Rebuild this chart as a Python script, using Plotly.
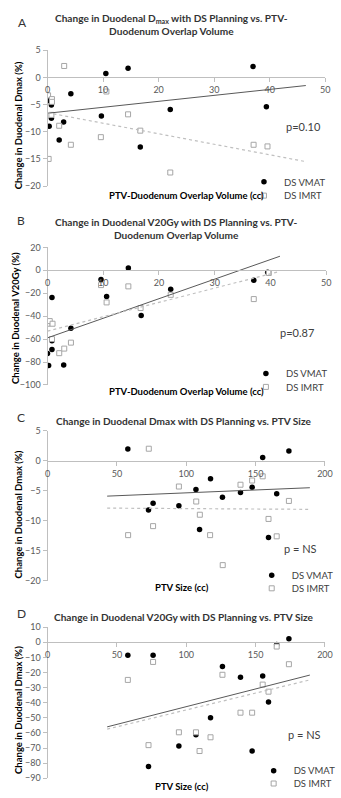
import plotly.graph_objects as go

W, H = 341, 798

# ---------------- data ----------------
# Panel A: Duodenal Dmax change vs PTV-duodenum overlap volume
a_vmat_x = [0.0, 0.7, 0.7, 0.3, 2.1, 2.9, 4.2, 10.5, 9.7, 14.5, 16.7, 22.1, 37.0, 39.4]
a_vmat_y = [-4.3, -5.1, -7.5, -9.0, -11.5, -8.2, -3.0, 0.7, -7.1, 1.7, -12.8, -5.9, 2.0, -5.4]
a_imrt_x = [3.0, 0.1, 0.8, 0.8, 0.7, 2.1, 0.2, 4.2, 9.6, 10.6, 14.5, 16.7, 22.1, 37.1, 39.6]
a_imrt_y = [2.1, -3.3, -4.0, -4.5, -6.9, -8.9, -15.0, -12.4, -11.0, -2.6, -6.8, -9.8, -17.5, -12.4, -12.7]
a_trend_x = [0.0, 46.5]
a_trend_vmat = [-6.6, -1.5]
a_trend_imrt = [-6.5, -15.5]

# Panel B: Duodenal V20Gy change vs overlap volume
b_vmat_x = [0.0, 0.2, 0.8, 0.8, 0.8, 2.9, 4.2, 9.6, 10.6, 14.5, 16.8, 22.1, 37.0, 39.5]
b_vmat_y = [-72.6, -83.0, -23.7, -69.0, -61.5, -82.6, -50.6, -8.0, -22.9, 2.0, -39.4, -16.6, -8.6, -1.7]
b_imrt_x = [0.0, 0.4, 0.9, 0.8, 2.1, 3.0, 4.2, 9.6, 10.6, 14.5, 16.7, 22.1, 37.0, 39.7]
b_imrt_y = [-46.6, -44.3, -46.6, -60.0, -72.3, -68.3, -63.1, -12.9, -28.0, -14.0, -32.9, -21.4, -25.1, -2.3]
b_trend_x = [0.0, 41.7]
b_trend_vmat = [-58.9, 12.3]
b_trend_imrt = [-53.0, -0.9]

# Panel C: Duodenal Dmax change vs PTV size
c_vmat_x = [57.9, 72.8, 76.1, 94.7, 107.0, 109.6, 117.5, 126.1, 139.1, 147.5, 155.1, 159.3, 165.2, 174.0]
c_vmat_y = [1.95, -8.2, -7.1, -7.5, -4.8, -11.45, -3.0, -6.1, -5.3, -4.4, 0.55, -12.8, -5.5, 1.6]
c_imrt_x = [58.1, 73.0, 76.1, 94.7, 107.2, 109.8, 117.2, 126.3, 139.1, 147.5, 155.1, 159.3, 165.2, 174.0]
c_imrt_y = [-12.4, 2.0, -10.9, -4.3, -6.8, -9.0, -12.4, -17.4, -4.0, -3.3, -2.6, -9.7, -12.6, -6.7]
c_trend_x = [43.0, 189.1]
c_trend_vmat = [-5.9, -4.5]
c_trend_imrt = [-7.9, -8.1]

# Panel D: Duodenal V20Gy change vs PTV size
d_vmat_x = [57.9, 76.1, 72.8, 94.7, 107.0, 117.5, 126.1, 139.1, 147.5, 155.1, 159.3, 165.2, 174.0]
d_vmat_y = [-8.5, -8.5, -82.2, -68.7, -61.2, -49.9, -16.0, -23.2, -72.0, -22.3, -39.5, -1.5, 2.4]
d_imrt_x = [57.9, 76.1, 72.8, 94.7, 107.0, 109.6, 117.5, 126.1, 139.1, 147.5, 155.1, 159.3, 165.2, 174.0]
d_imrt_y = [-24.9, -13.0, -68.1, -59.6, -59.6, -72.0, -62.9, -21.5, -46.6, -46.6, -28.0, -32.7, -2.8, -14.5]
d_trend_x = [43.0, 189.1]
d_trend_vmat = [-56.0, -21.7]
d_trend_imrt = [-57.5, -24.9]

letters = ["A", "B", "C", "D"]
titles = [
    "Change in Duodenal D<sub>max</sub> with DS Planning vs. PTV-<br>Duodenum Overlap Volume",
    "Change in Duodenal V20Gy with DS Planning vs. PTV-<br>Duodenum Overlap Volume",
    "Change in Duodenal Dmax with DS Planning vs. PTV Size",
    "Change in Duodenal V20Gy with DS Planning vs. PTV Size",
]
y_titles = [
    "Change in Duodenal Dmax (%)",
    "Change in Duodenal V20Gy (%)",
    "Change in Duodenal Dmax (%)",
    "Change in Duodenal Dmax (%)",
]
x_titles = [
    "PTV-Duodenum Overlap Volume (cc)",
    "PTV-Duodenum Overlap Volume (cc)",
    "PTV Size (cc)",
    "PTV Size (cc)",
]
p_texts = ["p=0.10", "p=0.87", "p = NS", "p = NS"]
series_names = ["DS VMAT", "DS IMRT"]

# ---------------- layout geometry (pixels) ----------------
panels = [
    dict(vx=a_vmat_x, vy=a_vmat_y, ix=a_imrt_x, iy=a_imrt_y, tx=a_trend_x, tv=a_trend_vmat, ti=a_trend_imrt,
         xr=[0, 50], dx=10, yr=[-20, 5], dy=5, px=[46, 333], py=[45, 183.3], yt=(16, 121),
         letter=(20, 17), title=(174, 18.5), p=(310, 123), xt=(190, 193), leg=(289, 179, 193)),
    dict(vx=b_vmat_x, vy=b_vmat_y, ix=b_imrt_x, iy=b_imrt_y, tx=b_trend_x, tv=b_trend_vmat, ti=b_trend_imrt,
         xr=[0, 50], dx=10, yr=[-100, 20], dy=20, px=[46, 334], py=[245.7, 385.7], yt=(13, 318),
         letter=(19, 218), title=(179, 226.5), p=(304, 332), xt=(190, 392), leg=(291, 374, 387.7)),
    dict(vx=c_vmat_x, vy=c_vmat_y, ix=c_imrt_x, iy=c_imrt_y, tx=c_trend_x, tv=c_trend_vmat, ti=c_trend_imrt,
         xr=[0, 200], dx=50, yr=[-20, 5], dy=5, px=[46, 332.7], py=[432.3, 585], yt=(16, 517),
         letter=(19, 419), title=(186, 422), p=(307, 552), xt=(185, 592), leg=(297, 579.3, 592.7)),
    dict(vx=d_vmat_x, vy=d_vmat_y, ix=d_imrt_x, iy=d_imrt_y, tx=d_trend_x, tv=d_trend_vmat, ti=d_trend_imrt,
         xr=[0, 200], dx=50, yr=[-90, 10], dy=10, px=[46, 332.7], py=[632.3, 786], yt=(16, 716),
         letter=(19, 618), title=(187, 622), p=(312, 741), xt=(185, 794), leg=(299, 778.3, 791.7)),
]

FONT = "Lato, 'Open Sans', sans-serif"
AXIS_GRAY = "#bfbfbf"
TICK_COLOR = "#595959"

fig = go.Figure()
annotations = []
layout = dict(
    width=W, height=H, margin=dict(l=0, r=0, t=0, b=0),
    paper_bgcolor="white", plot_bgcolor="white",
    font=dict(family=FONT, size=10, color="#404040"),
)

leg_count = 0
for i, pn in enumerate(panels):
    n = "" if i == 0 else str(i + 1)
    xa, ya = "x" + n, "y" + n
    xdom = [pn["px"][0] / W, pn["px"][1] / W]
    ydom = [1 - pn["py"][1] / H, 1 - pn["py"][0] / H]
    y0, y1 = pn["yr"]
    zero_pos = ydom[0] + (0 - y0) / (y1 - y0) * (ydom[1] - ydom[0])

    leg_names = []
    for k in range(2):
        leg_count += 1
        leg_names.append("legend" if leg_count == 1 else "legend" + str(leg_count))

    fig.add_trace(go.Scatter(
        x=pn["vx"], y=pn["vy"], mode="markers", name=series_names[0],
        marker=dict(symbol="circle", size=5.5, color="black"),
        xaxis=xa, yaxis=ya, legend=leg_names[0]))
    fig.add_trace(go.Scatter(
        x=pn["ix"], y=pn["iy"], mode="markers", name=series_names[1],
        marker=dict(symbol="square", size=5, color="white", line=dict(color="#a6a6a6", width=1)),
        xaxis=xa, yaxis=ya, legend=leg_names[1]))
    fig.add_trace(go.Scatter(
        x=pn["tx"], y=pn["tv"], mode="lines", showlegend=False, hoverinfo="skip",
        line=dict(color="#595959", width=1), xaxis=xa, yaxis=ya))
    fig.add_trace(go.Scatter(
        x=pn["tx"], y=pn["ti"], mode="lines", showlegend=False, hoverinfo="skip",
        line=dict(color="#bfbfbf", width=1.2, dash="dot"), xaxis=xa, yaxis=ya))

    layout["xaxis" + n] = dict(
        domain=xdom, range=pn["xr"], anchor="free", position=zero_pos,
        showline=True, linecolor=AXIS_GRAY, linewidth=1,
        ticks="outside", ticklen=4, tickcolor=AXIS_GRAY, tick0=0, dtick=pn["dx"],
        tickfont=dict(size=9, color=TICK_COLOR, family=FONT),
        showgrid=False, zeroline=False)
    layout["yaxis" + n] = dict(
        domain=ydom, range=pn["yr"], anchor=xa,
        showline=True, linecolor=AXIS_GRAY, linewidth=1,
        ticks="outside", ticklen=4, tickcolor=AXIS_GRAY, tick0=0, dtick=pn["dy"],
        tickfont=dict(size=9, color=TICK_COLOR, family=FONT),
        showgrid=False, zeroline=False)
    # text start x for legend entries; symbol sits 20px left of text
    lx = pn["leg"][0] - 40
    for k in range(2):
        layout[leg_names[k]] = dict(
            x=lx / W, y=1 - pn["leg"][1 + k] / H, xanchor="left", yanchor="middle",
            bgcolor="rgba(0,0,0,0)", borderwidth=0, itemwidth=30,
            font=dict(size=9.5, color="#404040", family=FONT))

    annotations.append(dict(
        text=letters[i], x=pn["letter"][0] / W, y=1 - pn["letter"][1] / H,
        xref="paper", yref="paper", showarrow=False, xanchor="center", yanchor="middle",
        font=dict(size=12, color="#333333", family=FONT)))
    annotations.append(dict(
        text="<b>" + titles[i] + "</b>", x=pn["title"][0] / W, y=1 - pn["title"][1] / H,
        xref="paper", yref="paper", showarrow=False, xanchor="center", yanchor="middle",
        align="center", font=dict(size=10.1, color="#333333", family=FONT)))
    annotations.append(dict(
        text=p_texts[i], x=pn["p"][0] / W, y=1 - pn["p"][1] / H,
        xref="paper", yref="paper", showarrow=False, xanchor="center", yanchor="middle",
        font=dict(size=11, color="#404040", family=FONT)))
    annotations.append(dict(
        text="<b>" + x_titles[i] + "</b>", x=pn["xt"][0] / W, y=1 - pn["xt"][1] / H,
        xref="paper", yref="paper", showarrow=False, xanchor="center", yanchor="middle",
        font=dict(size=9.5, color="black", family=FONT)))
    annotations.append(dict(
        text="<b>" + y_titles[i] + "</b>", x=pn["yt"][0] / W, y=1 - pn["yt"][1] / H,
        xref="paper", yref="paper", showarrow=False, xanchor="center", yanchor="middle",
        textangle=-90, font=dict(size=9.5, color="black", family=FONT)))

layout["annotations"] = annotations
fig.update_layout(**layout)
fig.write_html("out.html", config={"displayModeBar": False},
               post_script="document.body.style.margin='0px';")
